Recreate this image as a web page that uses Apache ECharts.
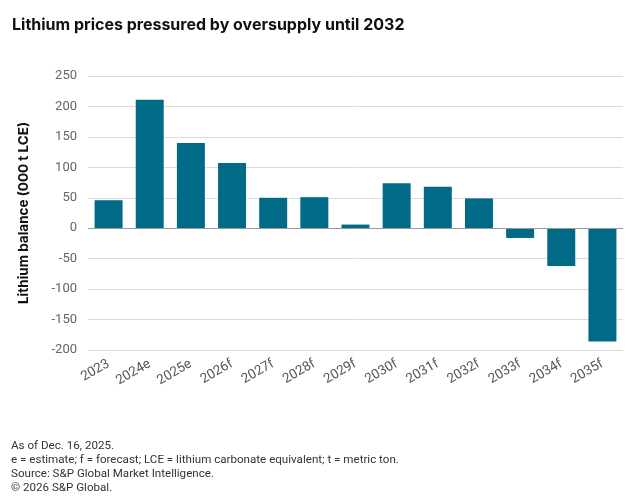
<!DOCTYPE html>
<html>
<head>
<meta charset="utf-8">
<script src="https://cdn.jsdelivr.net/npm/echarts@6/dist/echarts.min.js"></script>
<style>
html,body{margin:0;padding:0;background:#fff;}
#chart{width:642px;height:502px;}
</style>
</head>
<body>
<div id="chart"></div>
<script>
var years = ['2023','2024e','2025e','2026f','2027f','2028f','2029f','2030f','2031f','2032f','2033f','2034f','2035f'];
var balance = [46, 211, 140, 107, 50, 51, 6, 74, 68, 49, -16, -62, -186];
var notes = [
	'As of Dec. 16, 2025.',
	'e = estimate; f = forecast; LCE = lithium carbonate equivalent; t = metric ton.',
	'Source: S&P Global Market Intelligence.',
	'\u00a9 2026 S&P Global.'
];

var myChart = echarts.init(document.getElementById('chart'));
var option = {
	backgroundColor: '#fff',
	textStyle: { fontFamily: 'Roboto, "Noto Sans", sans-serif' },
	title: [{
		text: 'Lithium prices pressured by oversupply until 2032',
		left: 7,
		top: 12,
		textStyle: { fontSize: 16, fontWeight: 'bold', color: '#111', fontFamily: 'Inter, sans-serif' }
	}, {
		text: notes.join('\n'),
		left: 6,
		top: 434,
		textStyle: { fontSize: 11.6, fontWeight: 'normal', color: '#333', lineHeight: 14 }
	}],
	grid: { left: 88, right: 19, top: 76, bottom: 152, outerBoundsMode: 'none' },
	xAxis: {
		type: 'category',
		data: years,
		axisLine: { show: false, onZero: false },
		axisTick: { show: false },
		axisLabel: {
			interval: 0,
			rotate: 30,
			color: '#555',
			fontSize: 13.5,
			margin: 13
		}
	},
	yAxis: {
		type: 'value',
		min: -200,
		max: 250,
		interval: 50,
		name: 'Lithium balance (000 t LCE)',
		nameLocation: 'middle',
		nameGap: 57,
		nameTextStyle: { fontSize: 13.5, fontWeight: 'bold', color: '#111', fontFamily: 'Inter, sans-serif' },
		axisLabel: { color: '#666', fontSize: 13, margin: 11 },
		axisLine: { show: false },
		axisTick: { show: false },
		splitLine: { lineStyle: { color: '#dcdcdc' } }
	},
	series: [{
		name: 'Lithium balance',
		type: 'bar',
		data: balance,
		barWidth: '68%',
		itemStyle: { color: '#006a87' },
		markLine: {
			silent: true,
			symbol: 'none',
			label: { show: false },
			lineStyle: { color: '#999', type: 'solid', width: 1 },
			data: [{ yAxis: 0 }]
		}
	}]
};
myChart.setOption(option, true);
</script>
</body>
</html>
